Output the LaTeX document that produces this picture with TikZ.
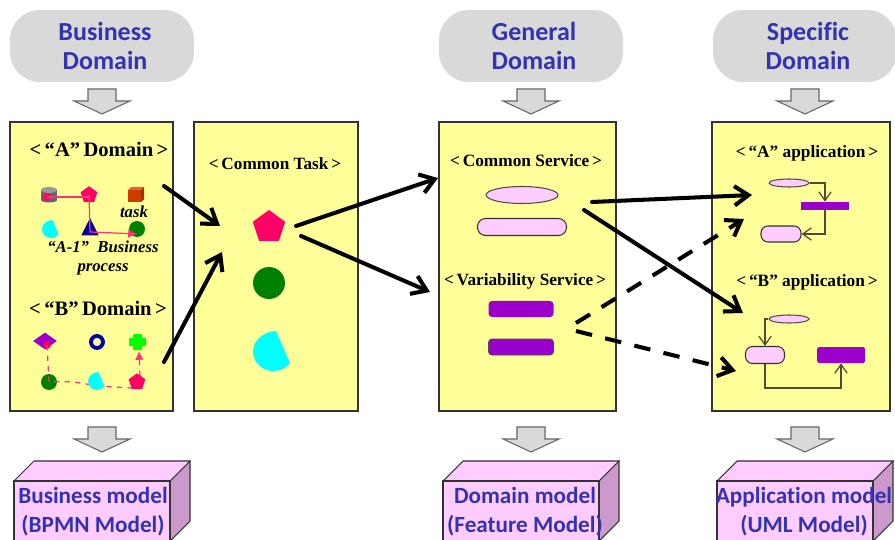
\documentclass[tikz,border=0pt]{standalone}
\usepackage{fontspec}
\setmainfont{Liberation Serif}
\newfontfamily\headfont[Ligatures = NoCommon]{Carlito}
\usetikzlibrary{shapes.geometric, arrows.meta}

\definecolor{panelyellow}{HTML}{FFFF99}
\definecolor{pillgrey}{HTML}{D9D9D9}
\definecolor{headblue}{HTML}{3333B2}
\definecolor{boxpink}{HTML}{FFCCFF}
\definecolor{boxside}{HTML}{CC99CC}
\definecolor{hotpink}{HTML}{FF0066}
\definecolor{linepink}{HTML}{FF3377}
\definecolor{darkgreen}{HTML}{008000}
\definecolor{brightgreen}{HTML}{00FF00}
\definecolor{barpurple}{HTML}{9900CC}
\definecolor{flowline}{HTML}{4D4D33}
\definecolor{sectorcyan}{HTML}{00FFFF}
\definecolor{cubered}{HTML}{CC3C00}
\definecolor{cubetop}{HTML}{D8683A}
\definecolor{cubeside}{HTML}{A33000}
\definecolor{navy}{HTML}{0000AA}

\tikzset{
	pill/.style = {fill = pillgrey, rounded corners = 30*0.02cm},
	panel/.style = {draw = black!80, line width = .7pt, fill = panelyellow},
	headtext/.style = {text = headblue, align = center, inner sep = 0pt, font = \headfont\bfseries\fontsize{14.8}{16.5}\selectfont},
	modeltext/.style = {text = headblue, align = center, inner sep = 0pt, font = \headfont\bfseries\fontsize{13.2}{16.5}\selectfont},
	paneltext/.style = {inner sep = 0pt, font = \bfseries\fontsize{11.7}{13}\selectfont},
	apptext/.style = {inner sep = 0pt, font = \bfseries\fontsize{9.85}{11}\selectfont},
	tasktext/.style = {inner sep = 0pt, align = center, font = \bfseries\itshape\fontsize{9.5}{11}\selectfont},
	downarrow/.style = {draw = black!60, line width = .6pt, fill = pillgrey},
	bigarrow/.style = {line width = 2.3pt, line cap = round, -{Straight Barb[length = 8pt, width = 11pt, line width = 2.3pt]}},
	bigdash/.style = {bigarrow, line cap = butt, dash pattern = on 9.4pt off 7.7pt},
	pinkline/.style = {draw = linepink, line width = .7pt, -{Latex[length = 5pt, width = 5pt]}},
	pinkdash/.style = {pinkline, dashed},
	flow/.style = {draw = flowline, line width = .7pt, -{Straight Barb[length = 5pt, width = 7pt]}},
	penta/.style = {regular polygon, regular polygon sides = 5, fill = hotpink, inner sep = 0pt},
	dot/.style = {circle, fill = darkgreen, inner sep = 0pt},
	oval/.style = {ellipse, draw = black!70, line width = .6pt, fill = boxpink, inner sep = 0pt},
	roundbox/.style = {rectangle, rounded corners = 4pt, draw = black!80, line width = .6pt, fill = boxpink, inner sep = 0pt},
	bar/.style = {rectangle, fill = barpurple, inner sep = 0pt},
	sector/.pic = {\fill[sectorcyan] (3, -20) .. controls (-8, -20) and (-20, -11) .. (-20, 0) .. controls (-20, 11) and (-11, 20) .. (0, 20) .. controls (7, 20) and (13, 17) .. (17, 12) -- cycle;},
}

\newcommand{\modelbox}[2]{
	\fill[boxside] (#1+156,#2) -- (#1+176,#2-20) -- (#1+176,#2+40) -- (#1+156,#2+60) -- cycle;
	\draw[boxpink, fill = boxpink] (#1,#2) -- (#1+20,#2-20) -- (#1+176,#2-20) -- (#1+156,#2) -- cycle;
	\draw[fill = boxpink, draw = black!80, line width = .6pt] (#1,#2+70) -- (#1,#2) -- (#1+156,#2) -- (#1+156,#2+70);
	\draw[black!80, line width = .6pt] (#1,#2) -- (#1+20,#2-20) -- (#1+176,#2-20) -- (#1+156,#2);
	\draw[black!80, line width = .6pt] (#1+176,#2-20) -- (#1+176,#2+40) -- (#1+156,#2+60);
}

\begin{document}
\begin{tikzpicture}[x = 0.02cm, y = -0.02cm]

	\useasboundingbox (0, 0) rectangle (895, 540);
	\clip (0, 0) rectangle (895, 540);

	%%% DOMAINS %%%

	\fill[pill] (10,  10) rectangle (194, 82);
	\fill[pill] (439, 10) rectangle (623, 82);
	\fill[pill] (713, 10) rectangle (897, 82);

	\node[headtext] (business) at (105, 46) {Business\\Domain};
	\node[headtext] (general)  at (534, 46) {General\\Domain};
	\node[headtext] (specific) at (808, 46) {Specific\\Domain};

	\foreach \x in {102, 531, 805} {
		\draw[downarrow, shift = {(\x, 89)}] (-14, 0) -- (14, 0) -- (14, 12) -- (28, 12) -- (0, 25) -- (-28, 12) -- (-14, 12) -- cycle;
		\draw[downarrow, shift = {(\x, 427)}] (-14, 0) -- (14, 0) -- (14, 12) -- (28, 12) -- (0, 25) -- (-28, 12) -- (-14, 12) -- cycle;
	}

	%%% PANELS %%%

	\draw[panel] (10,  122) rectangle (173, 411);
	\draw[panel] (194, 122) rectangle (358, 411);
	\draw[panel] (439, 122) rectangle (616, 411);
	\draw[panel] (712, 122) rectangle (890, 411);

	%%% BUSINESS DOMAIN %%%

	\node[paneltext] (adomain) at (99, 149) {<\,“A”\,Domain\,>};
	\node[paneltext] (bdomain) at (98, 308) {<\,“B”\,Domain\,>};

	\fill[black!60] (41, 190) rectangle (57, 200);
	\fill[black!60] (49, 200) ellipse (8 and 2.5);
	\fill[black!40] (49, 190) ellipse (8 and 3);
	\node[penta, minimum size = 17.5*0.02cm] (apenta) at (89, 195) {};
	\fill[cubered] (128, 190) rectangle (141, 202);
	\fill[cubetop] (128, 190) -- (131, 187) -- (144, 187) -- (141, 190) -- cycle;
	\fill[cubeside] (141, 190) -- (144, 187) -- (144, 199) -- (141, 202) -- cycle;
	\node[tasktext] (atask) at (134, 212) {task};
	\pic[scale = .45] at (51, 229) {sector};
	\draw[navy!60!black, fill = navy, line width = .4pt] (90, 219) -- (98, 235) -- (82, 235) -- cycle;
	\node[dot, minimum size = 16*0.02cm] (agreen) at (137, 229) {};
	\node[circle, fill = hotpink, inner sep = 0pt, minimum size = 8*0.02cm] (apink) at (47, 197) {};
	\node[tasktext] (aproc) at (103, 258) {“A-1”\ \ Business\\process};

	\draw[linepink, line width = .7pt] (apink.center) -- (apenta.south |- apink.center);
	\draw[pinkline] (apenta.center) -- (90, 232) -- ([yshift = -2.8pt]agreen.center);

	\node[diamond, fill = barpurple, inner sep = 0pt, minimum width = 24*0.02cm, minimum height = 17*0.02cm] (bdia) at (45, 341) {};
	\node[circle, fill = hotpink, inner sep = 0pt, minimum size = 8*0.02cm] (bpink) at (47, 345) {};
	\node[circle, draw = navy, line width = 2.2pt, inner sep = 0pt, minimum size = 12*0.02cm] (bring) at (97, 342) {};
	\fill[brightgreen, rounded corners = .5pt] (133, 334) rectangle (142, 350);
	\fill[brightgreen, rounded corners = .5pt] (129, 338) rectangle (146, 346);
	\node[dot, minimum size = 16*0.02cm] (bgreen) at (49, 382) {};
	\coordinate (bcross) at (139, 351);

	\draw[pinkdash, -] (bpink.center) -- (bgreen.center) to[bend left = 8] (96, 386) -- (132, 388);
	\draw[pinkdash] (140, 376) -- (bcross);

	\pic[scale = .45] at (97, 381) {sector};
	\node[penta, minimum size = 17.5*0.02cm] (bpenta) at (137, 382) {};

	%%% COMMON TASK %%%

	\node[paneltext, font = \bfseries\fontsize{9.8}{11}\selectfont] (common) at (275, 164) {<\,Common Task\,>};
	\node[penta, minimum size = 34*0.02cm] (cpenta) at (269, 227) {};
	\node[dot, minimum size = 32*0.02cm] (cgreen) at (269, 283) {};
	\pic at (273, 351) {sector};

	%%% GENERAL DOMAIN %%%

	\node[paneltext, font = \bfseries\fontsize{9.85}{11}\selectfont] (cservice) at (526, 161) {<\,Common Service\,>};
	\node[oval, minimum width = 72*0.02cm, minimum height = 17*0.02cm] (goval) at (522, 195) {};
	\node[roundbox, rounded corners = 4.6pt, minimum width = 89*0.02cm, minimum height = 17*0.02cm] (ground) at (522, 227) {};
	\node[paneltext, font = \bfseries\fontsize{9.8}{11}\selectfont] (vservice) at (525, 281) {<\,Variability Service\,>};
	\node[bar, rounded corners = 2pt, minimum width = 65*0.02cm, minimum height = 16*0.02cm] (gbara) at (521, 309) {};
	\node[bar, draw = black!70, line width = .5pt, rounded corners = 2pt, minimum width = 65*0.02cm, minimum height = 16*0.02cm] (gbarb) at (521, 347) {};

	%%% SPECIFIC DOMAIN %%%

	\node[apptext] (aapp) at (807, 153) {<\,“A” application\,>};
	\node[oval, minimum width = 40*0.02cm, minimum height = 8*0.02cm] (saoval) at (789, 183) {};
	\node[bar, minimum width = 48*0.02cm, minimum height = 8*0.02cm] (sabar) at (825, 206) {};
	\node[roundbox, minimum width = 40*0.02cm, minimum height = 16*0.02cm] (saround) at (781, 234) {};

	\draw[flow] (saoval.east) -| (sabar.north);
	\draw[flow] (sabar.south) |- (saround.east);

	\node[apptext] (bapp) at (807, 282) {<\,“B” application\,>};
	\node[oval, minimum width = 40*0.02cm, minimum height = 8*0.02cm] (sboval) at (789, 319) {};
	\node[roundbox, minimum width = 39*0.02cm, minimum height = 17*0.02cm] (sbround) at (765, 355) {};
	\node[bar, rounded corners = 1pt, minimum width = 48*0.02cm, minimum height = 16*0.02cm] (sbbar) at (841, 355) {};

	\draw[flow] (sboval.west) -| (sbround.north);
	\draw[flow] (sbround.south) -- (765, 388) -| (sbbar.south);

	%%% MODELS %%%

	\modelbox{14}{481}
	\modelbox{443}{481}
	\modelbox{717}{481}

	\node[modeltext] (bmodel) at (93,  512) {Business model\\(BPMN Model)};
	\node[modeltext] (dmodel) at (525, 512) {Domain model\\(Feature Model)};
	\node[modeltext] (amodel) at (804, 512) {Application model\\(UML Model)};

	%%% ARROWS %%%

	\coordinate (taska)   at (164, 186);
	\coordinate (taskb)   at (164, 362);
	\coordinate (intoa)   at (220, 226);
	\coordinate (intob)   at (222, 252);
	\coordinate (outa)    at (296, 226);
	\coordinate (outb)    at (301, 236);
	\coordinate (servc)   at (438, 178);
	\coordinate (servv)   at (430, 292);
	\coordinate (comma)   at (592, 202);
	\coordinate (commb)   at (584, 210);
	\coordinate (vara)    at (576, 323);
	\coordinate (varb)    at (576, 331);
	\coordinate (appa)    at (752, 195);
	\coordinate (appb)    at (743, 313);
	\coordinate (appc)    at (744, 219);
	\coordinate (appd)    at (736, 371);

	\draw[bigarrow] (taska) -- (intoa);
	\draw[bigarrow] (taskb) -- (intob);
	\draw[bigarrow] (outa)  -- (servc);
	\draw[bigarrow] (outb)  -- (servv);
	\draw[bigarrow] (comma) -- (appa);
	\draw[bigarrow] (commb) -- (appb);
	\draw[bigdash]  (vara)  -- (appc);
	\draw[bigdash]  (varb)  -- (appd);

\end{tikzpicture}
\end{document}
